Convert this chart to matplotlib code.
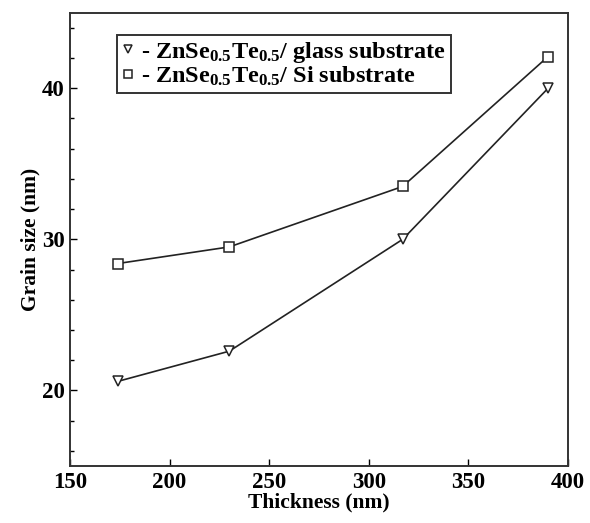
import matplotlib
matplotlib.use("Agg")
import matplotlib.pyplot as plt
from matplotlib.ticker import MultipleLocator

# Data
thickness = [174, 230, 317, 390]
grain_glass = [20.6, 22.6, 30.0, 40.0]
grain_si = [28.4, 29.5, 33.5, 42.1]

x_ticks = [150, 200, 250, 300, 350, 400]
y_ticks = [20, 30, 40]

plt.rcParams['font.family'] = ['Liberation Serif', 'DejaVu Serif']
plt.rcParams['font.weight'] = 'bold'
plt.rcParams['mathtext.fontset'] = 'custom'
plt.rcParams['mathtext.rm'] = 'Liberation Serif:bold'
plt.rcParams['mathtext.bf'] = 'Liberation Serif:bold'
plt.rcParams['mathtext.it'] = 'Liberation Serif:italic:bold'

fig = plt.figure(figsize=(5.9, 5.23), dpi=100)
ax = fig.add_axes([0.1186, 0.109, 0.8441, 0.8667])

ax.plot(thickness, grain_glass, color="#222222", lw=1.2, marker="v", ms=7,
        mfc="white", mec="#222222", mew=1.1, label="- ZnSe$_{0.5}$Te$_{0.5}$/ glass substrate")
ax.plot(thickness, grain_si, color="#222222", lw=1.2, marker="s", ms=7,
        mfc="white", mec="#222222", mew=1.1, label="- ZnSe$_{0.5}$Te$_{0.5}$/ Si substrate")

ax.set_xlim(150, 400)
ax.set_ylim(15, 45)
ax.set_xticks(x_ticks)
ax.set_yticks(y_ticks)
ax.yaxis.set_minor_locator(MultipleLocator(2))
ax.tick_params(direction="in", length=5, width=1, labelsize=16.5, pad=4)
ax.tick_params(which="minor", direction="in", length=3, width=1)
for lbl in ax.get_xticklabels() + ax.get_yticklabels():
    lbl.set_fontweight("bold")

ax.set_xlabel("Thickness (nm)", fontsize=15.5, fontweight="bold", labelpad=0)
ax.set_ylabel("Grain size (nm)", fontsize=15.5, fontweight="bold", labelpad=1)

for sp in ax.spines.values():
    sp.set_linewidth(1.4)
    sp.set_color("#333333")

# legend: marker only, text starts with "-"
h, l = ax.get_legend_handles_labels()
leg = ax.legend(h, l, loc="upper left", bbox_to_anchor=(0.094, 0.951), borderaxespad=0,
                fontsize=17.5, handlelength=0.5, handletextpad=0.3, borderpad=0.2,
                labelspacing=0.0, fancybox=False, edgecolor="#333333", framealpha=1)
leg.get_frame().set_linewidth(1.4)
for lh in leg.legend_handles:
    lh.set_linestyle("None")
    lh.set_markersize(6)

fig.savefig("out.png", dpi=100)
